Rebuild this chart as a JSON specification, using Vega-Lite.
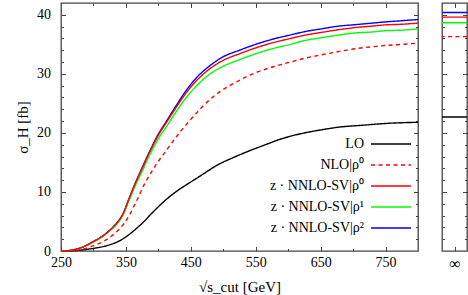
{
  "$schema": "https://vega.github.io/schema/vega-lite/v6.json",
  "padding": {"left": 14, "top": 1, "right": 1, "bottom": 1},
  "spacing": 18,
  "config": {
    "font": "Liberation Serif",
    "view": {"stroke": "#444", "strokeWidth": 1.3},
    "axis": {"domain": false, "grid": false, "tickColor": "#444", "tickWidth": 1, "labelFont": "Liberation Serif", "labelFontSize": 14, "labelColor": "#000", "titleFont": "Liberation Serif", "titleFontSize": 15, "titleFontWeight": "normal", "titleColor": "#000"}
  },
  "datasets": {
    "main": [
      {"s":"LO","x":250,"y":0},{"s":"LO","x":265,"y":0.03},{"s":"LO","x":280,"y":0.15},{"s":"LO","x":300,"y":0.45},{"s":"LO","x":315,"y":0.75},{"s":"LO","x":325,"y":1.05},{"s":"LO","x":335,"y":1.45},{"s":"LO","x":346,"y":2.1},{"s":"LO","x":355,"y":2.8},{"s":"LO","x":365,"y":3.7},{"s":"LO","x":377,"y":4.9},{"s":"LO","x":390,"y":6.4},{"s":"LO","x":402,"y":7.7},{"s":"LO","x":415,"y":9.0},{"s":"LO","x":428,"y":10.1},{"s":"LO","x":440,"y":11.0},{"s":"LO","x":453,"y":11.9},{"s":"LO","x":470,"y":13.1},{"s":"LO","x":490,"y":14.5},{"s":"LO","x":515,"y":15.8},{"s":"LO","x":541,"y":17.0},{"s":"LO","x":565,"y":18.0},{"s":"LO","x":587,"y":18.9},{"s":"LO","x":613,"y":19.7},{"s":"LO","x":650,"y":20.5},{"s":"LO","x":680,"y":21.0},{"s":"LO","x":715,"y":21.3},{"s":"LO","x":750,"y":21.6},{"s":"LO","x":800,"y":21.8},
      {"s":"NLO|ρ⁰","x":250,"y":0},{"s":"NLO|ρ⁰","x":260,"y":0.02},{"s":"NLO|ρ⁰","x":275,"y":0.15},{"s":"NLO|ρ⁰","x":290,"y":0.5},{"s":"NLO|ρ⁰","x":300,"y":0.9},{"s":"NLO|ρ⁰","x":315,"y":1.6},{"s":"NLO|ρ⁰","x":325,"y":2.3},{"s":"NLO|ρ⁰","x":335,"y":3.2},{"s":"NLO|ρ⁰","x":346,"y":4.5},{"s":"NLO|ρ⁰","x":355,"y":6.0},{"s":"NLO|ρ⁰","x":366,"y":8.4},{"s":"NLO|ρ⁰","x":379,"y":11.4},{"s":"NLO|ρ⁰","x":390,"y":13.5},{"s":"NLO|ρ⁰","x":400,"y":15.2},{"s":"NLO|ρ⁰","x":412,"y":17.0},{"s":"NLO|ρ⁰","x":422,"y":18.5},{"s":"NLO|ρ⁰","x":433,"y":20.1},{"s":"NLO|ρ⁰","x":443,"y":21.4},{"s":"NLO|ρ⁰","x":464,"y":24.0},{"s":"NLO|ρ⁰","x":480,"y":25.7},{"s":"NLO|ρ⁰","x":495,"y":27.0},{"s":"NLO|ρ⁰","x":510,"y":28.0},{"s":"NLO|ρ⁰","x":525,"y":28.9},{"s":"NLO|ρ⁰","x":541,"y":29.8},{"s":"NLO|ρ⁰","x":560,"y":30.6},{"s":"NLO|ρ⁰","x":577,"y":31.2},{"s":"NLO|ρ⁰","x":600,"y":31.9},{"s":"NLO|ρ⁰","x":628,"y":32.7},{"s":"NLO|ρ⁰","x":650,"y":33.2},{"s":"NLO|ρ⁰","x":679,"y":33.8},{"s":"NLO|ρ⁰","x":700,"y":34.2},{"s":"NLO|ρ⁰","x":730,"y":34.6},{"s":"NLO|ρ⁰","x":750,"y":34.8},{"s":"NLO|ρ⁰","x":775,"y":35.0},{"s":"NLO|ρ⁰","x":800,"y":35.2},
      {"s":"z · NNLO-SV|ρ²","x":250,"y":0},{"s":"z · NNLO-SV|ρ²","x":260,"y":0.05},{"s":"z · NNLO-SV|ρ²","x":275,"y":0.35},{"s":"z · NNLO-SV|ρ²","x":290,"y":1.0},{"s":"z · NNLO-SV|ρ²","x":300,"y":1.6},{"s":"z · NNLO-SV|ρ²","x":315,"y":2.6},{"s":"z · NNLO-SV|ρ²","x":325,"y":3.5},{"s":"z · NNLO-SV|ρ²","x":335,"y":4.6},{"s":"z · NNLO-SV|ρ²","x":346,"y":6.4},{"s":"z · NNLO-SV|ρ²","x":355,"y":8.9},{"s":"z · NNLO-SV|ρ²","x":365,"y":11.6},{"s":"z · NNLO-SV|ρ²","x":375,"y":14.1},{"s":"z · NNLO-SV|ρ²","x":385,"y":16.5},{"s":"z · NNLO-SV|ρ²","x":400,"y":19.8},{"s":"z · NNLO-SV|ρ²","x":412,"y":21.9},{"s":"z · NNLO-SV|ρ²","x":425,"y":24.2},{"s":"z · NNLO-SV|ρ²","x":443,"y":27.2},{"s":"z · NNLO-SV|ρ²","x":460,"y":29.5},{"s":"z · NNLO-SV|ρ²","x":475,"y":31.0},{"s":"z · NNLO-SV|ρ²","x":500,"y":32.9},{"s":"z · NNLO-SV|ρ²","x":525,"y":34.0},{"s":"z · NNLO-SV|ρ²","x":550,"y":35.0},{"s":"z · NNLO-SV|ρ²","x":577,"y":35.9},{"s":"z · NNLO-SV|ρ²","x":600,"y":36.5},{"s":"z · NNLO-SV|ρ²","x":628,"y":37.2},{"s":"z · NNLO-SV|ρ²","x":650,"y":37.6},{"s":"z · NNLO-SV|ρ²","x":679,"y":38.1},{"s":"z · NNLO-SV|ρ²","x":700,"y":38.3},{"s":"z · NNLO-SV|ρ²","x":730,"y":38.6},{"s":"z · NNLO-SV|ρ²","x":750,"y":38.8},{"s":"z · NNLO-SV|ρ²","x":775,"y":39.0},{"s":"z · NNLO-SV|ρ²","x":800,"y":39.2},
      {"s":"z · NNLO-SV|ρ¹","x":250,"y":0},{"s":"z · NNLO-SV|ρ¹","x":260,"y":0.05},{"s":"z · NNLO-SV|ρ¹","x":275,"y":0.33},{"s":"z · NNLO-SV|ρ¹","x":290,"y":0.95},{"s":"z · NNLO-SV|ρ¹","x":300,"y":1.5},{"s":"z · NNLO-SV|ρ¹","x":315,"y":2.5},{"s":"z · NNLO-SV|ρ¹","x":325,"y":3.4},{"s":"z · NNLO-SV|ρ¹","x":335,"y":4.4},{"s":"z · NNLO-SV|ρ¹","x":346,"y":6.2},{"s":"z · NNLO-SV|ρ¹","x":355,"y":8.6},{"s":"z · NNLO-SV|ρ¹","x":365,"y":11.2},{"s":"z · NNLO-SV|ρ¹","x":375,"y":13.5},{"s":"z · NNLO-SV|ρ¹","x":385,"y":15.9},{"s":"z · NNLO-SV|ρ¹","x":400,"y":19.0},{"s":"z · NNLO-SV|ρ¹","x":412,"y":21.0},{"s":"z · NNLO-SV|ρ¹","x":425,"y":23.2},{"s":"z · NNLO-SV|ρ¹","x":443,"y":26.0},{"s":"z · NNLO-SV|ρ¹","x":460,"y":28.1},{"s":"z · NNLO-SV|ρ¹","x":475,"y":29.6},{"s":"z · NNLO-SV|ρ¹","x":500,"y":31.3},{"s":"z · NNLO-SV|ρ¹","x":525,"y":32.4},{"s":"z · NNLO-SV|ρ¹","x":550,"y":33.4},{"s":"z · NNLO-SV|ρ¹","x":577,"y":34.3},{"s":"z · NNLO-SV|ρ¹","x":600,"y":34.9},{"s":"z · NNLO-SV|ρ¹","x":628,"y":35.7},{"s":"z · NNLO-SV|ρ¹","x":650,"y":36.1},{"s":"z · NNLO-SV|ρ¹","x":679,"y":36.6},{"s":"z · NNLO-SV|ρ¹","x":700,"y":36.9},{"s":"z · NNLO-SV|ρ¹","x":730,"y":37.1},{"s":"z · NNLO-SV|ρ¹","x":750,"y":37.3},{"s":"z · NNLO-SV|ρ¹","x":775,"y":37.4},{"s":"z · NNLO-SV|ρ¹","x":800,"y":37.6},
      {"s":"z · NNLO-SV|ρ⁰","x":250,"y":0},{"s":"z · NNLO-SV|ρ⁰","x":260,"y":0.05},{"s":"z · NNLO-SV|ρ⁰","x":275,"y":0.35},{"s":"z · NNLO-SV|ρ⁰","x":290,"y":1.0},{"s":"z · NNLO-SV|ρ⁰","x":300,"y":1.6},{"s":"z · NNLO-SV|ρ⁰","x":315,"y":2.6},{"s":"z · NNLO-SV|ρ⁰","x":325,"y":3.5},{"s":"z · NNLO-SV|ρ⁰","x":335,"y":4.6},{"s":"z · NNLO-SV|ρ⁰","x":346,"y":6.4},{"s":"z · NNLO-SV|ρ⁰","x":355,"y":8.9},{"s":"z · NNLO-SV|ρ⁰","x":365,"y":11.6},{"s":"z · NNLO-SV|ρ⁰","x":375,"y":14.0},{"s":"z · NNLO-SV|ρ⁰","x":385,"y":16.4},{"s":"z · NNLO-SV|ρ⁰","x":400,"y":19.6},{"s":"z · NNLO-SV|ρ⁰","x":412,"y":21.7},{"s":"z · NNLO-SV|ρ⁰","x":425,"y":23.9},{"s":"z · NNLO-SV|ρ⁰","x":443,"y":26.8},{"s":"z · NNLO-SV|ρ⁰","x":460,"y":29.0},{"s":"z · NNLO-SV|ρ⁰","x":475,"y":30.5},{"s":"z · NNLO-SV|ρ⁰","x":500,"y":32.3},{"s":"z · NNLO-SV|ρ⁰","x":525,"y":33.4},{"s":"z · NNLO-SV|ρ⁰","x":550,"y":34.4},{"s":"z · NNLO-SV|ρ⁰","x":577,"y":35.3},{"s":"z · NNLO-SV|ρ⁰","x":600,"y":35.9},{"s":"z · NNLO-SV|ρ⁰","x":628,"y":36.6},{"s":"z · NNLO-SV|ρ⁰","x":650,"y":37.0},{"s":"z · NNLO-SV|ρ⁰","x":679,"y":37.5},{"s":"z · NNLO-SV|ρ⁰","x":700,"y":37.8},{"s":"z · NNLO-SV|ρ⁰","x":730,"y":38.1},{"s":"z · NNLO-SV|ρ⁰","x":750,"y":38.3},{"s":"z · NNLO-SV|ρ⁰","x":775,"y":38.4},{"s":"z · NNLO-SV|ρ⁰","x":800,"y":38.6}
    ],
    "inf": [
      {"s":"LO","y":22.7},{"s":"NLO|ρ⁰","y":36.3},{"s":"z · NNLO-SV|ρ²","y":40.4},{"s":"z · NNLO-SV|ρ¹","y":38.65},{"s":"z · NNLO-SV|ρ⁰","y":39.6}
    ],
    "dummy": [{"k":0.5,"x":250,"y":0}]
  },
  "resolve": {"legend": {"color": "independent", "strokeDash": "independent"}},
  "hconcat": [
    {
      "width": 357,
      "height": 248,
      "layer": [
        {
          "data": {"name": "main"},
          "mark": {"type": "line", "strokeWidth": 1.4, "interpolate": "monotone"},
          "encoding": {
            "x": {"field": "x", "type": "quantitative", "scale": {"domain": [250, 800], "nice": false, "zero": false},
                  "axis": {"orient": "bottom", "values": [250, 350, 450, 550, 650, 750], "tickSize": -4.5, "labelPadding": 9, "title": "√s_cut [GeV]", "titlePadding": 10, "labelFlush": false}},
            "y": {"field": "y", "type": "quantitative", "scale": {"domain": [0, 42], "nice": false},
                  "axis": {"orient": "left", "values": [0, 10, 20, 30, 40], "tickSize": -4.5, "labelPadding": 15, "title": "σ_H [fb]", "titlePadding": 6}},
            "color": {"field": "s", "type": "nominal",
                      "scale": {"domain": ["LO", "NLO|ρ⁰", "z · NNLO-SV|ρ⁰", "z · NNLO-SV|ρ¹", "z · NNLO-SV|ρ²"], "range": ["#000000", "#ff0000", "#ff0000", "#00ff00", "#0000ff"]},
                      "legend": {"orient": "none", "legendX": 323, "legendY": 134, "title": null, "padding": 0, "symbolType": "M-5,0H5", "labelAlign": "right", "labelOffset": -34, "symbolSize": 64, "symbolStrokeWidth": 1.5, "rowPadding": 7, "labelFont": "Liberation Serif", "labelFontSize": 14, "labelColor": "#000", "labelLimit": 0}},
            "strokeDash": {"field": "s", "type": "nominal",
                      "scale": {"domain": ["LO", "NLO|ρ⁰", "z · NNLO-SV|ρ⁰", "z · NNLO-SV|ρ¹", "z · NNLO-SV|ρ²"], "range": [[1, 0], [4, 3.5], [1, 0], [1, 0], [1, 0]]},
                      "legend": {"orient": "none", "legendX": 323, "legendY": 134, "title": null, "padding": 0, "symbolType": "M-5,0H5", "labelAlign": "right", "labelOffset": -34, "symbolSize": 64, "symbolStrokeWidth": 1.5, "rowPadding": 7, "labelFont": "Liberation Serif", "labelFontSize": 14, "labelColor": "#000", "labelLimit": 0}}
          }
        },
        {
          "data": {"name": "dummy"},
          "mark": {"type": "point", "opacity": 0},
          "encoding": {
            "x": {"field": "x", "type": "quantitative", "axis": {"orient": "bottom", "values": [300, 400, 500, 600, 700], "tickSize": -2.5, "labels": false, "title": null}},
            "y": {"field": "y", "type": "quantitative", "axis": {"orient": "left", "values": [2, 4, 6, 8, 12, 14, 16, 18, 22, 24, 26, 28, 32, 34, 36, 38], "tickSize": -2.5, "labels": false, "title": null}}
          }
        },
        {
          "data": {"name": "dummy"},
          "mark": {"type": "point", "opacity": 0},
          "encoding": {
            "x": {"field": "x", "type": "quantitative", "axis": {"orient": "top", "values": [350, 450, 550, 650, 750], "tickSize": -4.5, "labels": false, "title": null}},
            "y": {"field": "y", "type": "quantitative", "axis": {"orient": "right", "values": [10, 20, 30, 40], "tickSize": -4.5, "labels": false, "title": null}}
          }
        },
        {
          "data": {"name": "dummy"},
          "mark": {"type": "point", "opacity": 0},
          "encoding": {
            "x": {"field": "x", "type": "quantitative", "axis": {"orient": "top", "values": [300, 400, 500, 600, 700], "tickSize": -2.5, "labels": false, "title": null}},
            "y": {"field": "y", "type": "quantitative", "axis": {"orient": "right", "values": [2, 4, 6, 8, 12, 14, 16, 18, 22, 24, 26, 28, 32, 34, 36, 38], "tickSize": -2.5, "labels": false, "title": null}}
          }
        }
      ],
      "resolve": {"axis": {"x": "independent", "y": "independent"}}
    },
    {
      "width": 25,
      "height": 248,
      "layer": [
        {
          "data": {"name": "inf"},
          "mark": {"type": "rule", "strokeWidth": 1.4},
          "encoding": {
            "y": {"field": "y", "type": "quantitative", "scale": {"domain": [0, 42], "nice": false},
                  "axis": {"orient": "left", "values": [10, 20, 30, 40], "tickSize": -4.5, "labels": false, "title": null}},
            "color": {"field": "s", "type": "nominal", "legend": null,
                      "scale": {"domain": ["LO", "NLO|ρ⁰", "z · NNLO-SV|ρ⁰", "z · NNLO-SV|ρ¹", "z · NNLO-SV|ρ²"], "range": ["#000000", "#ff0000", "#ff0000", "#00ff00", "#0000ff"]}},
            "strokeDash": {"field": "s", "type": "nominal", "legend": null,
                      "scale": {"domain": ["LO", "NLO|ρ⁰", "z · NNLO-SV|ρ⁰", "z · NNLO-SV|ρ¹", "z · NNLO-SV|ρ²"], "range": [[1, 0], [4, 3.5], [1, 0], [1, 0], [1, 0]]}}
          }
        },
        {
          "data": {"name": "dummy"},
          "mark": {"type": "point", "opacity": 0},
          "encoding": {
            "x": {"field": "k", "type": "quantitative", "scale": {"domain": [0, 1], "nice": false, "zero": false},
                  "axis": {"orient": "bottom", "values": [0.5], "labelExpr": "'∞'", "tickSize": -4.5, "labelPadding": 9, "labelFontSize": 16, "title": null}},
            "y": {"field": "y", "type": "quantitative", "axis": {"orient": "left", "values": [2, 4, 6, 8, 12, 14, 16, 18, 22, 24, 26, 28, 32, 34, 36, 38], "tickSize": -2.5, "labels": false, "title": null}}
          }
        },
        {
          "data": {"name": "dummy"},
          "mark": {"type": "point", "opacity": 0},
          "encoding": {
            "x": {"field": "k", "type": "quantitative", "axis": {"orient": "top", "values": [0.5], "tickSize": -4.5, "labels": false, "title": null}},
            "y": {"field": "y", "type": "quantitative", "axis": {"orient": "right", "values": [10, 20, 30, 40], "tickSize": -4.5, "labels": false, "title": null}}
          }
        },
        {
          "data": {"name": "dummy"},
          "mark": {"type": "point", "opacity": 0},
          "encoding": {
            "x": {"field": "k", "type": "quantitative", "axis": null},
            "y": {"field": "y", "type": "quantitative", "axis": {"orient": "right", "values": [2, 4, 6, 8, 12, 14, 16, 18, 22, 24, 26, 28, 32, 34, 36, 38], "tickSize": -2.5, "labels": false, "title": null}}
          }
        }
      ],
      "resolve": {"axis": {"x": "independent", "y": "independent"}}
    }
  ]
}
